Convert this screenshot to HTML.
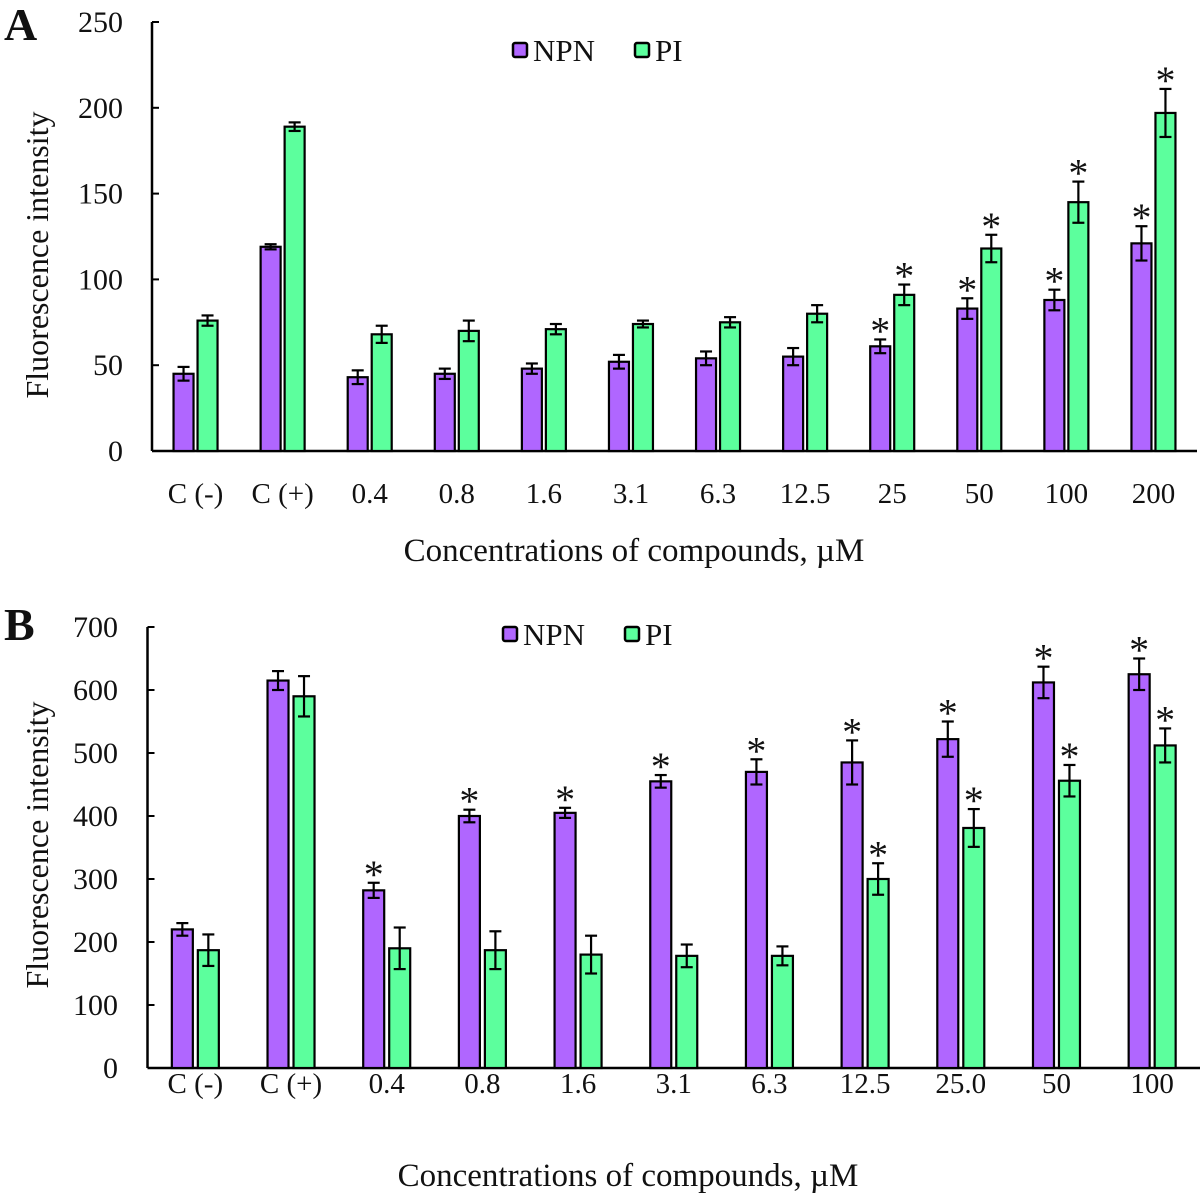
<!DOCTYPE html>
<html><head><meta charset="utf-8"><style>
html,body{margin:0;padding:0;background:#fff}
svg{display:block}
text{font-family:"Liberation Serif",serif;fill:#111}
</style></head><body>
<svg id="chart" width="1200" height="1200" viewBox="0 0 1200 1200" xmlns="http://www.w3.org/2000/svg"></svg>
<script>
// Panel A data
const catsA = ["C (-)","C (+)","0.4","0.8","1.6","3.1","6.3","12.5","25","50","100","200"];
const npnA = [45,119,43,45,48,52,54,55,61,83,88,121];
const npnErrA = [4,1.5,4,3,3,4,4,5,4,6,6,10];
const piA = [76,189,68,70,71,74,75,80,91,118,145,197];
const piErrA = [3,2.5,5,6,3,2,3,5,6,8,12,14];
const npnStarA = [0,0,0,0,0,0,0,0,1,1,1,1];
const piStarA = [0,0,0,0,0,0,0,0,1,1,1,1];
const ticksA = [0,50,100,150,200,250];
// Panel B data
const catsB = ["C (-)","C (+)","0.4","0.8","1.6","3.1","6.3","12.5","25.0","50","100"];
const npnB = [220,615,282,400,405,455,470,485,522,612,625];
const npnErrB = [10,15,12,10,8,10,20,35,28,25,25];
const piB = [187,590,190,187,180,178,178,300,381,456,512];
const piErrB = [25,32,33,30,30,18,15,25,30,25,27];
const npnStarB = [0,0,1,1,1,1,1,1,1,1,1];
const piStarB = [0,0,0,0,0,0,0,1,1,1,1];
const ticksB = [0,100,200,300,400,500,600,700];

const svg = document.getElementById('chart');
const NS = "http://www.w3.org/2000/svg";
function mk(tag, attrs, parent){
  const e = document.createElementNS(NS, tag);
  for (const k in attrs) e.setAttribute(k, attrs[k]);
  (parent||svg).appendChild(e);
  return e;
}
function panel(cfg){
  const g = mk('g', {});
  
  
  const y = v => cfg.y0 - v / cfg.max * (cfg.y0 - cfg.yTop);
  const step = (cfg.xEnd - cfg.x0) / cfg.cats.length;
  const x = i => cfg.x0 + step * (i + 0.5);
  const L = mk('text', {x: 4, y: cfg.letterY, 'font-size': 46, 'font-weight': 'bold'}, g);
  L.textContent = cfg.letter;
  
  
  cfg.ticks.forEach(t => {
    mk('line', {x1: cfg.x0, x2: cfg.x0 + 7, y1: y(t), y2: y(t), stroke: '#000', 'stroke-width': 2}, g);
    const tx = mk('text', {x: cfg.tickRight, y: y(t) + 10, 'font-size': 30, 'text-anchor': 'end'}, g);
    tx.textContent = t;
    
    
  });
  const ya = mk('line', {x1: cfg.x0, x2: cfg.x0, y1: cfg.yTop, y2: cfg.y0, stroke: '#000', 'stroke-width': 2.5}, g);
  
  
  const xa = mk('line', {x1: cfg.x0, x2: cfg.xEnd, y1: cfg.y0, y2: cfg.y0, stroke: '#000', 'stroke-width': 2.5}, g);
  
  
  const yt = mk('text', {x: 0, y: 0, 'font-size': 32, 'text-anchor': 'middle', transform: `translate(48 ${cfg.yTitleC}) rotate(-90)`}, g);
  yt.textContent = 'Fluorescence intensity';
  
  
  const xt = mk('text', {x: cfg.titleX, y: cfg.titleY, 'font-size': 33, 'text-anchor': 'middle'}, g);
  xt.textContent = 'Concentrations of compounds, \u00b5M';
  
  
  const bw = cfg.bw, gap = cfg.gap;
  function bar(i, v, e, star, col, off, nm){
    const bx = x(i) + off;
    const r = mk('rect', {x: bx, y: y(v), width: bw, height: cfg.y0 - y(v), fill: col, stroke: '#000', 'stroke-width': 2.2}, g);
    
    
    const cx = bx + bw / 2;
    mk('line', {x1: cx, x2: cx, y1: y(v + e), y2: y(v - e), stroke: '#000', 'stroke-width': 2.2}, g);
    mk('line', {x1: cx - 6, x2: cx + 6, y1: y(v + e), y2: y(v + e), stroke: '#000', 'stroke-width': 2.2}, g);
    mk('line', {x1: cx - 6, x2: cx + 6, y1: y(v - e), y2: y(v - e), stroke: '#000', 'stroke-width': 2.2}, g);
    if (star) {
      const s = mk('text', {x: cx, y: y(v + e) + 5, 'font-size': 40, 'text-anchor': 'middle', 'font-family': 'Liberation Sans'}, g);
      s.textContent = '*';
      
      
    }
  }
  cfg.cats.forEach((c, i) => {
    bar(i, cfg.npn[i], cfg.npnErr[i], cfg.npnStar[i], '#b066ff', -gap / 2 - bw, 'npn');
    bar(i, cfg.pi[i], cfg.piErr[i], cfg.piStar[i], '#5cff9d', gap / 2, 'pi');
    const t = mk('text', {x: x(i), y: cfg.labelY, 'font-size': 29, 'text-anchor': 'middle'}, g);
    t.textContent = c;
    
    
  });
  const lg = mk('g', {}, g);
  
  
  [['NPN', '#b066ff', cfg.legX], ['PI', '#5cff9d', cfg.legX + 122]].forEach(([n, c, lx]) => {
    mk('rect', {x: lx, y: cfg.legY - 7, width: 14, height: 14, fill: c, stroke: '#000', 'stroke-width': 2.5, rx: 2}, lg);
    const t = mk('text', {x: lx + 20, y: cfg.legY + 11, 'font-size': 31}, lg);
    t.textContent = n;
    
    
  });
}
panel({name: 'panel-a', letter: 'A', letterY: 40, cats: catsA, npn: npnA, npnErr: npnErrA, pi: piA, piErr: piErrA,
  npnStar: npnStarA, piStar: piStarA, ticks: ticksA, max: 250, x0: 152, xEnd: 1197, y0: 451, yTop: 22,
  bw: 20, gap: 4, labelY: 503, titleX: 634, titleY: 561, legX: 513, legY: 50, tickRight: 123, yTitleC: 255});
panel({name: 'panel-b', letter: 'B', letterY: 640, cats: catsB, npn: npnB, npnErr: npnErrB, pi: piB, piErr: piErrB,
  npnStar: npnStarB, piStar: piStarB, ticks: ticksB, max: 700, x0: 147.5, xEnd: 1200, y0: 1068, yTop: 627,
  bw: 21, gap: 5, labelY: 1093, titleX: 628, titleY: 1186, legX: 503, legY: 634, tickRight: 118, yTitleC: 845});
</script>
</body></html>
